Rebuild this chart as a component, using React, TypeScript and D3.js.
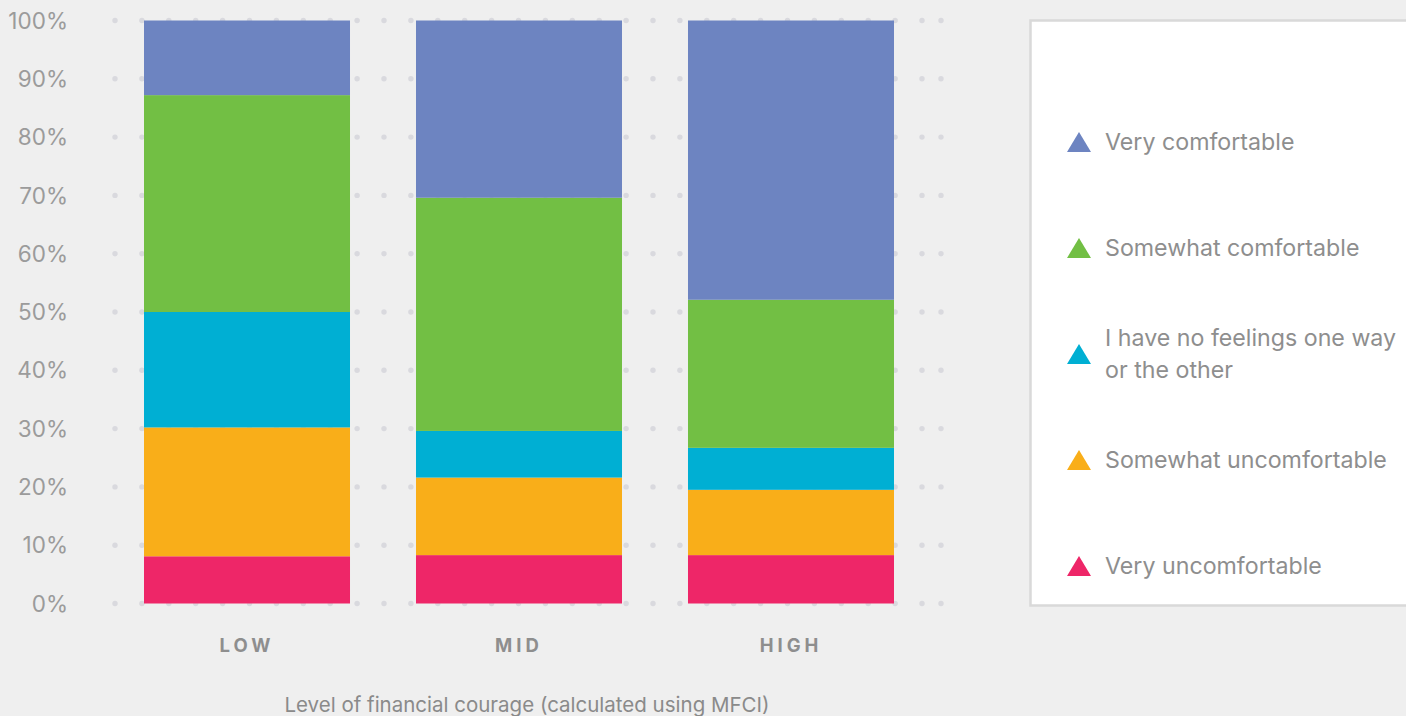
import React from "react";
import * as d3 from "d3";

const categories = ["LOW", "MID", "HIGH"];
const seriesNames = [
  "Very uncomfortable",
  "Somewhat uncomfortable",
  "I have no feelings one way or the other",
  "Somewhat comfortable",
  "Very comfortable",
];
const veryUncomfortable = [8.1, 8.3, 8.3];
const somewhatUncomfortable = [22.1, 13.3, 11.2];
const noFeelings = [19.8, 8.0, 7.2];
const somewhatComfortable = [37.2, 40.0, 25.4];
const veryComfortable = [12.8, 30.4, 47.9];
const seriesColors = ["#ee2668", "#f9ae19", "#00afd3", "#72bf44", "#6d84c1"];
const yTicks = [0, 10, 20, 30, 40, 50, 60, 70, 80, 90, 100];
const legendOrder = [4, 3, 2, 1, 0];
const legendLines: string[][] = [
  ["Very uncomfortable"],
  ["Somewhat uncomfortable"],
  ["I have no feelings one way", "or the other"],
  ["Somewhat comfortable"],
  ["Very comfortable"],
];
const xTitle = "Level of financial courage (calculated using MFCI)";

const W = 1406;
const H = 716;
const FONT = "Inter, 'Noto Sans', sans-serif";

export default function App() {
  const values = [veryUncomfortable, somewhatUncomfortable, noFeelings, somewhatComfortable, veryComfortable];
  const rows = categories.map((c, i) => {
    const r: any = { cat: c };
    seriesNames.forEach((s, j) => (r[s] = values[j][i]));
    return r;
  });
  const stack = d3.stack<any>().keys(seriesNames)(rows);

  const y = d3.scaleLinear().domain([0, 100]).range([603.5, 20.5]);
  const x = d3.scaleBand().domain(categories).range([76, 962]).paddingInner(0.2426).paddingOuter(0.25);

  const dotStep = 26.9;
  const dotXs = d3.range(115, 941 - 5, dotStep).concat([941]);

  const legendY = d3.scaleLinear().domain([0, 4]).range([141, 565]);

  return (
    <svg width={W} height={H} style={{ position: "absolute", left: 0, top: 0, background: "#efefef" }}>
      <rect x={0} y={0} width={W} height={H} fill="#efefef" />
      {yTicks.map((t) => (
        <g key={"g" + t}>
          {dotXs.map((dx, k) => (
            <circle key={k} cx={dx} cy={y(t)} r={2.7} fill="#d9d9de" />
          ))}
        </g>
      ))}
      {yTicks.map((t) => (
        <text
          key={"yl" + t}
          x={68}
          y={y(t)}
          dy="0.36em"
          textAnchor="end"
          fontFamily={FONT}
          fontSize={22.5}
          fill="#9b9b9b"
        >
          {t + "%"}
        </text>
      ))}
      {stack.map((layer, j) => (
        <g key={"s" + j} fill={seriesColors[j]}>
          {layer.map((d, i) => (
            <rect
              key={i}
              x={x(categories[i])}
              width={x.bandwidth()}
              y={y(d[1])}
              height={y(d[0]) - y(d[1])}
            />
          ))}
        </g>
      ))}
      {categories.map((c) => (
        <text
          key={"xl" + c}
          x={(x(c) as number) + x.bandwidth() / 2}
          y={652}
          textAnchor="middle"
          fontFamily={FONT}
          fontSize={18.5}
          fontWeight={700}
          letterSpacing={4}
          fill="#8e8e8e"
        >
          {c}
        </text>
      ))}
      <text x={527} y={712} textAnchor="middle" fontFamily={FONT} fontSize={20.5} fill="#8a8a8a">
        {xTitle}
      </text>
      <rect x={1030.5} y={20.5} width={420} height={585} fill="#ffffff" stroke="#d9d9d9" strokeWidth={2.5} />
      {legendOrder.map((si, k) => {
        const cy = legendY(k);
        const lines = legendLines[si];
        return (
          <g key={"lg" + si}>
            <path
              d={`M${1067},${cy + 11} L${1091},${cy + 11} L${1079},${cy - 9} Z`}
              fill={seriesColors[si]}
            />
            {lines.map((ln, li) => (
              <text
                key={li}
                x={1105}
                y={cy + 8.5 + (li - (lines.length - 1) / 2) * 32}
                fontFamily={FONT}
                fontSize={23.2}
                fill="#8e8e8e"
              >
                {ln}
              </text>
            ))}
          </g>
        );
      })}
    </svg>
  );
}
